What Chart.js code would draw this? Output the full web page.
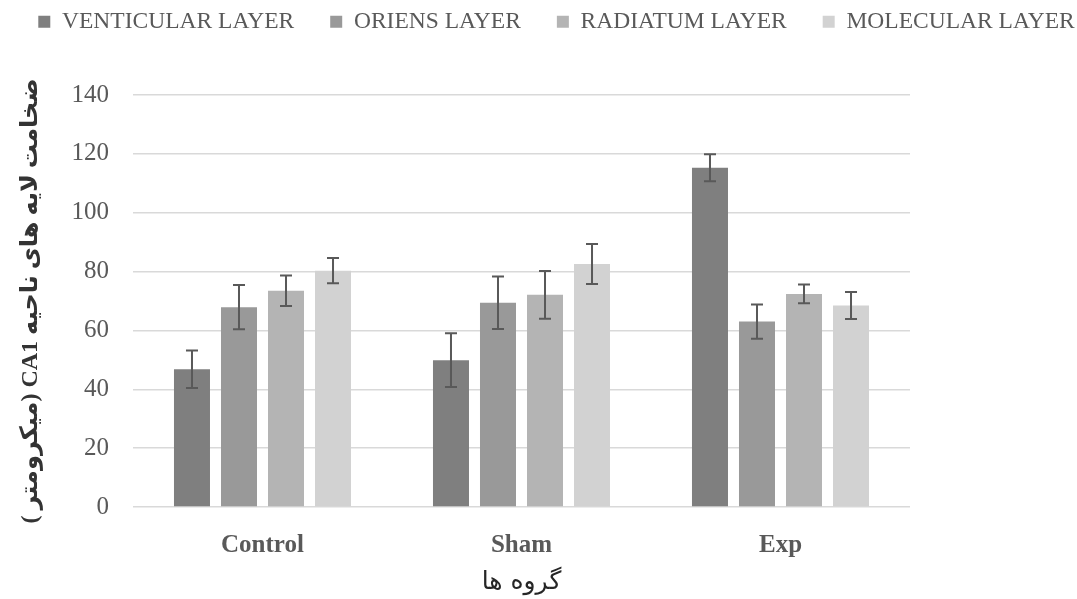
<!DOCTYPE html>
<html>
<head>
<meta charset="utf-8">
<script src="https://cdn.jsdelivr.net/npm/chart.js@4/dist/chart.umd.min.js"></script>
<style>
html,body{margin:0;padding:0;background:#fff;}
#wrap{width:1077px;height:599px;}
</style>
</head>
<body>
<div id="wrap"><canvas id="c"></canvas></div>
<script>
// data
const groups = ['Control', 'Sham', 'Exp'];
const layers = ['VENTICULAR LAYER', 'ORIENS LAYER', 'RADIATUM LAYER', 'MOLECULAR LAYER'];
const venticular = [46.8, 49.9, 115.3];
const oriens = [67.9, 69.4, 63.0];
const radiatum = [73.5, 72.1, 72.4];
const molecular = [80.3, 82.6, 68.5];
const venticularErr = [6.4, 9.1, 4.6];
const oriensErr = [7.5, 8.9, 5.8];
const radiatumErr = [5.2, 8.1, 3.2];
const molecularErr = [4.3, 6.8, 4.6];
// RLE ... PDF so the titles run right-to-left
const yTitle = '\u202Bضخامت لایه های ناحیه CA1 (میکرومتر )\u202C';
const xTitle = '\u202Bگروه ها\u202C';

const colors = ['#7f7f7f', '#999999', '#b4b4b4', '#d2d2d2'];
const series = [venticular, oriens, radiatum, molecular];
const errors = [venticularErr, oriensErr, radiatumErr, molecularErr];

Chart.defaults.font.family = '"Liberation Serif", "Times New Roman", serif';

// error bars
const errorBars = {
  id: 'errorBars',
  afterDatasetsDraw(chart) {
    const ctx = chart.ctx, y = chart.scales.y;
    ctx.save();
    ctx.strokeStyle = '#595959';
    ctx.lineWidth = 2;
    chart.data.datasets.forEach((ds, i) => {
      const meta = chart.getDatasetMeta(i);
      meta.data.forEach((bar, j) => {
        const v = ds.data[j], e = errors[i][j];
        const top = y.getPixelForValue(v + e), bot = y.getPixelForValue(v - e);
        ctx.beginPath();
        ctx.moveTo(bar.x, top); ctx.lineTo(bar.x, bot);
        ctx.moveTo(bar.x - 6, top); ctx.lineTo(bar.x + 6, top);
        ctx.moveTo(bar.x - 6, bot); ctx.lineTo(bar.x + 6, bot);
        ctx.stroke();
      });
    });
    ctx.restore();
  }
};

// keep the legend on one row and leave room below it
const legendFit = {
  id: 'legendFit',
  beforeInit(chart) {
    const lg = chart.legend, fit = lg.fit;
    lg.fit = function () {
      const mw = this.maxWidth;
      this.maxWidth = 5000;
      fit.call(this);
      this.maxWidth = mw;
      this.width = mw;
      this.height = 95;
    };
  },
  afterLayout(chart) {
    const lg = chart.legend;
    lg.left -= 182; lg.right += 218;
    lg.top -= 26; lg.bottom -= 26;
  }
};

new Chart(document.getElementById('c'), {
  type: 'bar',
  data: {
    labels: groups,
    datasets: layers.map((name, i) => ({
      label: name,
      data: series[i],
      backgroundColor: colors[i],
      categoryPercentage: 0.726,
      barPercentage: 0.766
    }))
  },
  options: {
    responsive: true,
    maintainAspectRatio: false,
    animation: false,
    layout: { padding: 0 },
    plugins: {
      legend: {
        position: 'top',
        labels: {
          boxWidth: 12, boxHeight: 12, padding: 36, color: '#595959',
          font: { family: '"Liberation Serif", serif', size: 23.5 }
        }
      },
      tooltip: { enabled: false }
    },
    scales: {
      x: {
        grid: { display: false },
        border: { display: false },
        ticks: { color: '#595959', padding: 16, font: { family: '"Liberation Serif"', size: 25, weight: 'bold' } },
        title: { display: true, text: xTitle, color: '#262626', padding: { top: 0, bottom: 2 },
          font: { family: '"DejaVu Sans"', size: 25 } },
        afterFit(s) { s.height = 92; }
      },
      y: {
        min: 0, max: 140,
        grid: { color: '#d9d9d9', lineWidth: 1.5, drawTicks: false },
        border: { display: false },
        ticks: { stepSize: 20, color: '#595959', padding: 24, font: { family: '"Liberation Serif"', size: 25 } },
        title: { display: true, text: yTitle, color: '#333333', padding: { top: 16, bottom: 0 },
          font: { family: '"Liberation Serif", "DejaVu Sans"', size: 24, weight: 'bold' } },
        afterFit(s) { s.width = 133; }
      },
      yR: {
        type: 'linear',
        position: 'right',
        grid: { display: false },
        border: { display: false },
        ticks: { display: false },
        afterFit(s) { s.width = 167; }
      }
    }
  },
  plugins: [errorBars, legendFit]
});
</script>
</body>
</html>
